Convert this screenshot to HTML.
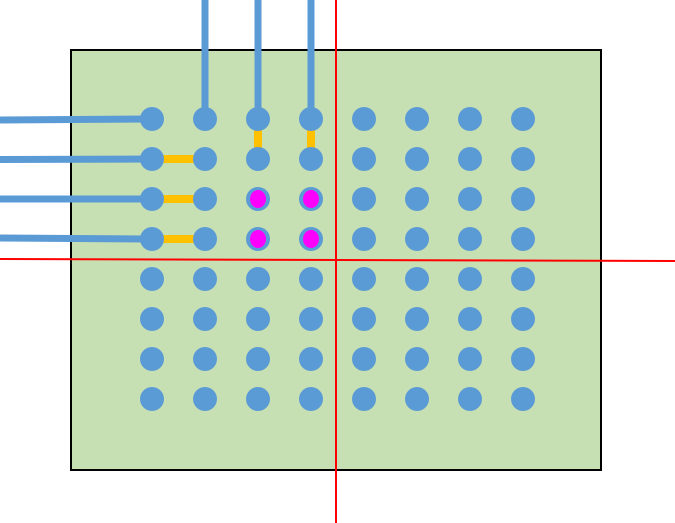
<!DOCTYPE html>
<html><head><style>html,body{margin:0;padding:0;background:#fff;width:675px;height:523px;overflow:hidden}</style></head>
<body>
<svg width="675" height="523" xmlns="http://www.w3.org/2000/svg">
<rect x="71" y="50" width="530" height="420" fill="#c6e0b4" stroke="#000" stroke-width="2"/>
<g stroke="#5b9bd5" stroke-width="7">
<line x1="0" y1="120" x2="152" y2="119"/>
<line x1="0" y1="159.5" x2="152" y2="159"/>
<line x1="0" y1="199" x2="152" y2="199"/>
<line x1="0" y1="238" x2="152" y2="239"/>
<line x1="205" y1="0" x2="205" y2="119"/>
<line x1="258" y1="0" x2="258" y2="119"/>
<line x1="311" y1="0" x2="311" y2="119"/>
</g>
<g stroke="#ffc000" stroke-width="8">
<line x1="152" y1="159" x2="205" y2="159"/>
<line x1="152" y1="199" x2="205" y2="199"/>
<line x1="152" y1="239" x2="205" y2="239"/>
<line x1="258" y1="119" x2="258" y2="159"/>
<line x1="311" y1="119" x2="311" y2="159"/>
</g>
<g fill="#5b9bd5">
<script>/* no */</script>
</g>
<g fill="#5b9bd5" id="g">
<circle cx="152" cy="119" r="12"/><circle cx="205" cy="119" r="12"/><circle cx="258" cy="119" r="12"/><circle cx="311" cy="119" r="12"/><circle cx="364" cy="119" r="12"/><circle cx="417" cy="119" r="12"/><circle cx="470" cy="119" r="12"/><circle cx="523" cy="119" r="12"/>
<circle cx="152" cy="159" r="12"/><circle cx="205" cy="159" r="12"/><circle cx="258" cy="159" r="12"/><circle cx="311" cy="159" r="12"/><circle cx="364" cy="159" r="12"/><circle cx="417" cy="159" r="12"/><circle cx="470" cy="159" r="12"/><circle cx="523" cy="159" r="12"/>
<circle cx="152" cy="199" r="12"/><circle cx="205" cy="199" r="12"/><circle cx="258" cy="199" r="12"/><circle cx="311" cy="199" r="12"/><circle cx="364" cy="199" r="12"/><circle cx="417" cy="199" r="12"/><circle cx="470" cy="199" r="12"/><circle cx="523" cy="199" r="12"/>
<circle cx="152" cy="239" r="12"/><circle cx="205" cy="239" r="12"/><circle cx="258" cy="239" r="12"/><circle cx="311" cy="239" r="12"/><circle cx="364" cy="239" r="12"/><circle cx="417" cy="239" r="12"/><circle cx="470" cy="239" r="12"/><circle cx="523" cy="239" r="12"/>
<circle cx="152" cy="279" r="12"/><circle cx="205" cy="279" r="12"/><circle cx="258" cy="279" r="12"/><circle cx="311" cy="279" r="12"/><circle cx="364" cy="279" r="12"/><circle cx="417" cy="279" r="12"/><circle cx="470" cy="279" r="12"/><circle cx="523" cy="279" r="12"/>
<circle cx="152" cy="319" r="12"/><circle cx="205" cy="319" r="12"/><circle cx="258" cy="319" r="12"/><circle cx="311" cy="319" r="12"/><circle cx="364" cy="319" r="12"/><circle cx="417" cy="319" r="12"/><circle cx="470" cy="319" r="12"/><circle cx="523" cy="319" r="12"/>
<circle cx="152" cy="359" r="12"/><circle cx="205" cy="359" r="12"/><circle cx="258" cy="359" r="12"/><circle cx="311" cy="359" r="12"/><circle cx="364" cy="359" r="12"/><circle cx="417" cy="359" r="12"/><circle cx="470" cy="359" r="12"/><circle cx="523" cy="359" r="12"/>
<circle cx="152" cy="399" r="12"/><circle cx="205" cy="399" r="12"/><circle cx="258" cy="399" r="12"/><circle cx="311" cy="399" r="12"/><circle cx="364" cy="399" r="12"/><circle cx="417" cy="399" r="12"/><circle cx="470" cy="399" r="12"/><circle cx="523" cy="399" r="12"/>
</g>
<g fill="#ff00ff">
<ellipse cx="258" cy="199" rx="8" ry="9"/><ellipse cx="311" cy="199" rx="8" ry="9"/>
<ellipse cx="258" cy="239" rx="8" ry="9"/><ellipse cx="311" cy="239" rx="8" ry="9"/>
</g>
<g stroke="#ff0000" stroke-width="2">
<line x1="336" y1="0" x2="336" y2="523"/>
<line x1="0" y1="259" x2="675" y2="261"/>
</g>
</svg>
</body></html>
